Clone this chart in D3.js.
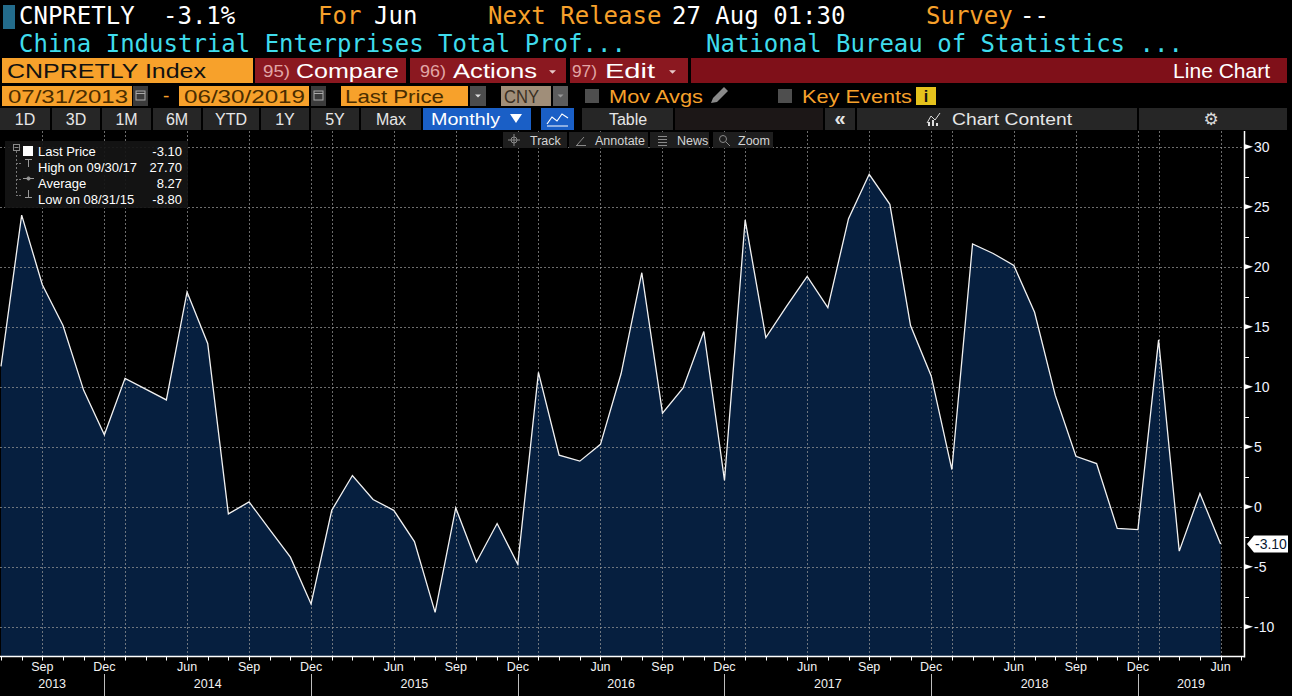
<!DOCTYPE html>
<html><head><meta charset="utf-8">
<script src="https://cdnjs.cloudflare.com/ajax/libs/d3/7.8.5/d3.min.js"></script>
<style>html,body{margin:0;padding:0;background:#000;overflow:hidden}</style>
</head><body>
<svg id="c" width="1292" height="696"></svg>
<script>
// ---------- DATA ----------
const months = [
 "Jul 2013","Aug 2013","Sep 2013","Oct 2013","Nov 2013","Dec 2013",
 "Mar 2014","Apr 2014","May 2014","Jun 2014","Jul 2014","Aug 2014","Sep 2014","Oct 2014","Nov 2014","Dec 2014",
 "Mar 2015","Apr 2015","May 2015","Jun 2015","Jul 2015","Aug 2015","Sep 2015","Oct 2015","Nov 2015","Dec 2015",
 "Mar 2016","Apr 2016","May 2016","Jun 2016","Jul 2016","Aug 2016","Sep 2016","Oct 2016","Nov 2016","Dec 2016",
 "Mar 2017","Apr 2017","May 2017","Jun 2017","Jul 2017","Aug 2017","Sep 2017","Oct 2017","Nov 2017","Dec 2017",
 "Mar 2018","Apr 2018","May 2018","Jun 2018","Jul 2018","Aug 2018","Sep 2018","Oct 2018","Nov 2018","Dec 2018",
 "Mar 2019","Apr 2019","May 2019","Jun 2019"];
const values = [
 11.7, 24.3, 18.5, 15.1, 9.7, 6.0,
 10.7, 9.8, 8.9, 17.9, 13.6, -0.6, 0.4, -1.9, -4.2, -8.1,
 -0.3, 2.6, 0.6, -0.3, -2.9, -8.8, -0.1, -4.6, -1.4, -4.8,
 11.2, 4.3, 3.8, 5.2, 11.1, 19.5, 7.8, 9.9, 14.6, 2.2,
 23.9, 14.1, 16.7, 19.2, 16.6, 24.0, 27.7, 25.2, 15.1, 10.9,
 3.1, 21.9, 21.1, 20.1, 16.2, 9.3, 4.2, 3.6, -1.8, -1.9,
 13.9, -3.7, 1.1, -3.1];
const yTicks = [-10, -5, 0, 5, 10, 15, 20, 25, 30];
const yMinorTicks = [-7.5, -2.5, 2.5, 7.5, 12.5, 17.5, 22.5, 27.5];
const xLabelMonths = ["Jun", "Sep", "Dec"];
const xGridMonths = ["Mar", "Jun", "Sep", "Dec"];
const years = ["2013","2014","2015","2016","2017","2018","2019"];
const legendRows = [
 {label:"Last Price", value:"-3.10"},
 {label:"High on 09/30/17", value:"27.70"},
 {label:"Average", value:"8.27"},
 {label:"Low on 08/31/15", value:"-8.80"}];
const lastValueLabel = "-3.10";

// ---------- SETUP ----------
const svg = d3.select("#c");
const ORANGE = "#f7a12b", CYAN = "#3fdcec", RED = "#8b1820";
const SANS = "'Liberation Sans', Arial, sans-serif";
const MONO = "'DejaVu Sans Mono', 'Liberation Mono', monospace";
svg.append("rect").attr("width",1292).attr("height",696).attr("fill","#000");

function T(x, y, s, o={}) {
  const t = svg.append("text").attr("x",x).attr("y",y).text(s)
    .attr("fill", o.fill || "#fff").attr("font-family", o.ff || SANS)
    .attr("font-size", o.fs || 16);
  if (o.anchor) t.attr("text-anchor", o.anchor);
  if (o.tl) t.attr("textLength", o.tl).attr("lengthAdjust","spacingAndGlyphs");
  if (o.fw) t.attr("font-weight", o.fw);
  return t;
}
function R(x, y, w, h, fill) {
  return svg.append("rect").attr("x",x).attr("y",y).attr("width",w).attr("height",h).attr("fill",fill);
}
function tri(cx, cy, s, fill, down=true) {
  svg.append("path").attr("d", down ? `M${cx-s},${cy-s/2}L${cx+s},${cy-s/2}L${cx},${cy+s/2}Z`
                                    : `M${cx-s},${cy+s/2}L${cx+s},${cy+s/2}L${cx},${cy-s/2}Z`).attr("fill",fill);
}

// ---------- HEADER ----------
R(3,5,12,24,"#236c8c");
T(19,24,"CNPRETLY",{ff:MONO,fs:24});
T(163,24,"-3.1%",{ff:MONO,fs:24});
T(318,24,"For",{ff:MONO,fs:24,fill:ORANGE});
T(374,24,"Jun",{ff:MONO,fs:24});
T(488,24,"Next Release",{ff:MONO,fs:24,fill:ORANGE});
T(672,24,"27 Aug 01:30",{ff:MONO,fs:24});
T(926,24,"Survey",{ff:MONO,fs:24,fill:ORANGE});
T(1020,24,"--",{ff:MONO,fs:24});
T(19,52,"China Industrial Enterprises Total Prof...",{ff:MONO,fs:24,fill:CYAN});
T(706,52,"National Bureau of Statistics ...",{ff:MONO,fs:24,fill:CYAN});

// row 3
R(2,58,251,25,ORANGE);
T(7,78,"CNPRETLY Index",{fs:21,fill:"#111",tl:199});
R(255,58,151,25,RED);
T(263,77,"95)",{fs:17,fill:"#e2a6a6",tl:27});
T(296,78,"Compare",{fs:21,tl:103});
R(410,58,156,25,RED);
T(420,77,"96)",{fs:17,fill:"#e2a6a6",tl:26});
T(453,78,"Actions",{fs:21,tl:84});
tri(552.5,72,3.5,"#e8c8c8");
R(570,58,118,25,RED);
T(572,77,"97)",{fs:17,fill:"#e2a6a6",tl:25});
T(605,78,"Edit",{fs:21,tl:50});
tri(672.5,72,3.5,"#e8c8c8");
R(691,58,596,25,"#7f1019");
T(1270,78,"Line Chart",{fs:21,anchor:"end"});

// row 4
function cal(x){
  R(x,86,15,20,"#3b3b3b");
  svg.append("rect").attr("x",x+3).attr("y",91).attr("width",9).attr("height",9)
    .attr("fill","none").attr("stroke","#aaa").attr("stroke-width",1);
  svg.append("line").attr("x1",x+3).attr("x2",x+12).attr("y1",93.5).attr("y2",93.5).attr("stroke","#aaa");
}
const DK = "#4a2d00";
R(2,86,130,20,ORANGE); T(8,103,"07/31/2013",{fs:19,fill:DK,tl:120}); cal(133);
T(163,102,"-",{fs:19,fill:ORANGE});
R(179,86,130,20,ORANGE); T(184,103,"06/30/2019",{fs:19,fill:DK,tl:121}); cal(311);
R(341,86,127,20,ORANGE); T(345,103,"Last Price",{fs:19,fill:DK,tl:99});
R(470,86,16,20,"#4c4c4c"); tri(478,96,3,"#ddd");
R(501,86,50,20,"#a08e79"); T(504,103,"CNY",{fs:19,fill:"#3a2e22",tl:35});
R(553,86,15,20,"#5c5c5c"); tri(560.5,96,3,"#999");
R(585,89,14,14,"#4e4e4e");
T(609,103,"Mov Avgs",{fs:19,fill:ORANGE,tl:94});
svg.append("path").attr("d","M711,103L713,98L724,87L728,91L717,102Z").attr("fill","#8a8a8a");
R(778,89,14,14,"#4e4e4e");
T(802,103,"Key Events",{fs:19,fill:ORANGE,tl:110});
R(916,87,20,18,"#e5c21c"); T(926,102,"i",{fs:16,fill:"#111",anchor:"middle",fw:"bold"});

// row 5
const btns = [[0,50,"1D"],[52,100,"3D"],[102,151,"1M"],[153,201,"6M"],[203,259,"YTD"],[261,309,"1Y"],[311,359,"5Y"],[361,421,"Max"]];
btns.forEach(b=>{ R(b[0],108,b[1]-b[0],22,"#262626"); T((b[0]+b[1])/2,125,b[2],{fs:16,fill:"#e6e6e6",anchor:"middle"}); });
R(423,108,108,22,"#1a5fc6"); T(431,125,"Monthly",{fs:16,fill:"#fff",tl:69});
svg.append("path").attr("d","M510,114L522,114L516,123Z").attr("fill","#fff");
R(541,108,33,22,"#1a5fc6");
svg.append("path").attr("d","M547,124L552,117L557,121L562,114L568,118").attr("fill","none").attr("stroke","#fff").attr("stroke-width",1.2);
svg.append("line").attr("x1",547).attr("x2",568).attr("y1",126).attr("y2",126).attr("stroke","#fff");
R(582,108,91,22,"#262626"); T(628,125,"Table",{fs:16,fill:"#e6e6e6",anchor:"middle"});
R(675,108,148,22,"#1c1717");
R(825,108,30,22,"#262626"); T(840,125,"«",{fs:20,fill:"#e6e6e6",anchor:"middle",fw:"bold"});
R(857,108,280,22,"#262626");
svg.append("path").attr("d","M927,123L931,116L935,120L940,113").attr("fill","none").attr("stroke","#ddd").attr("stroke-width",1);
R(928,122,2,4,"#ddd"); R(932,120,2,6,"#ddd"); R(936,123,2,3,"#ddd");
T(952,125,"Chart Content",{fs:16,fill:"#e6e6e6",tl:120});
R(1139,108,148,22,"#262626"); T(1211,125,"⚙",{fs:17,fill:"#dcdcdc",anchor:"middle",ff:"'DejaVu Sans', sans-serif"});

// ---------- CHART ----------
const plot = {left:0, right:1244, top:131, bottom:656.5};
const x = d3.scalePoint().domain(months).range([1, 1220.6]);
const y = d3.scaleLinear().domain([-12.48, 31.31]).range([plot.bottom, plot.top]);
const data = months.map((m,i)=>({m, v: values[i], mon: m.slice(0,3), yr: m.slice(4)}));

const area = d3.area().x(d=>x(d.m)).y0(plot.bottom).y1(d=>y(d.v));
svg.append("path").datum(data).attr("d",area).attr("fill","#061f3f");

// gridlines
const grid = svg.append("g").attr("stroke","#9a9a9a").attr("stroke-opacity",0.7)
  .attr("stroke-dasharray","2,2").attr("stroke-width",1);
grid.selectAll("line.h").data(yTicks).join("line")
  .attr("x1",plot.left).attr("x2",plot.right)
  .attr("y1",d=>Math.round(y(d))+0.5).attr("y2",d=>Math.round(y(d))+0.5);
grid.selectAll("line.v").data(data.filter(d=>xGridMonths.includes(d.mon))).join("line")
  .attr("x1",d=>Math.round(x(d.m))+0.5).attr("x2",d=>Math.round(x(d.m))+0.5)
  .attr("y1",plot.top).attr("y2",plot.bottom);

// line
const line = d3.line().x(d=>x(d.m)).y(d=>y(d.v));
svg.append("path").datum(data).attr("d",line).attr("fill","none")
  .attr("stroke","#f2f2f2").attr("stroke-width",1.3).attr("stroke-linejoin","miter");

// x axis
svg.append("line").attr("x1",0).attr("x2",plot.right).attr("y1",plot.bottom).attr("y2",plot.bottom)
  .attr("stroke","#fff").attr("stroke-width",1.5);
const step = x.step();
const minorX = months.map(m=>x(m)).concat([x(months[months.length-1]) + step]);
svg.append("g").selectAll("line").data(minorX).join("line")
  .attr("x1",d=>Math.round(d)+0.5).attr("x2",d=>Math.round(d)+0.5)
  .attr("y1",plot.bottom).attr("y2",plot.bottom+4).attr("stroke","#fff");
svg.append("g").selectAll("text").data(data.filter(d=>xLabelMonths.includes(d.mon))).join("text")
  .attr("x",d=>x(d.m)).attr("y",671).attr("text-anchor","middle")
  .attr("font-family",SANS).attr("font-size",12.5).attr("fill","#f2f2f2").text(d=>d.mon);
const decs = data.filter(d=>d.mon==="Dec");
svg.append("g").selectAll("line").data(decs).join("line")
  .attr("x1",d=>Math.round(x(d.m))+0.5).attr("x2",d=>Math.round(x(d.m))+0.5)
  .attr("y1",674).attr("y2",696).attr("stroke","#bdbdbd");
const bounds = [plot.left].concat(decs.map(d=>x(d.m))).concat([plot.right]);
svg.append("g").selectAll("text").data(years).join("text")
  .attr("x",(d,i)=>(bounds[i]+bounds[i+1])/2).attr("y",688).attr("text-anchor","middle")
  .attr("font-family",SANS).attr("font-size",12.5).attr("fill","#f2f2f2").text(d=>d);

// y axis
svg.append("line").attr("x1",1244.5).attr("x2",1244.5).attr("y1",plot.top).attr("y2",plot.bottom+1)
  .attr("stroke","#fff").attr("stroke-width",1.5);
svg.append("g").selectAll("path").data(yTicks).join("path")
  .attr("d",d=>{const yy=y(d); return `M1245,${yy-2.5}L1253,${yy}L1245,${yy+2.5}Z`;}).attr("fill","#fff");
svg.append("g").selectAll("line").data(yMinorTicks).join("line")
  .attr("x1",1245).attr("x2",1249).attr("y1",d=>Math.round(y(d))+0.5).attr("y2",d=>Math.round(y(d))+0.5)
  .attr("stroke","#fff");
svg.append("g").selectAll("text").data(yTicks).join("text")
  .attr("x",1254).attr("y",d=>y(d)+5).attr("font-family",SANS).attr("font-size",14)
  .attr("fill","#f0f4ff").text(d=>d);

// last value tag
const yl = y(values[values.length-1]);
svg.append("path").attr("d",`M1247,${yl}L1254,${yl-8.5}L1288,${yl-8.5}L1288,${yl+8.5}L1254,${yl+8.5}Z`).attr("fill","#fff");
T(1255,yl+5,lastValueLabel,{fs:14,fill:"#0b1a33"});

// ---------- LEGEND ----------
svg.append("rect").attr("x",5).attr("y",141).attr("width",183).attr("height",67)
  .attr("fill","#151515").attr("fill-opacity",0.92);
svg.append("rect").attr("x",13.5).attr("y",144.5).attr("width",6).attr("height",6)
  .attr("fill","none").attr("stroke","#8a8a8a");
svg.append("line").attr("x1",14.5).attr("x2",18.5).attr("y1",147.5).attr("y2",147.5).attr("stroke","#8a8a8a");
R(23,146,10,10,"#fff");
svg.append("line").attr("x1",16.5).attr("x2",16.5).attr("y1",151).attr("y2",196)
  .attr("stroke","#777").attr("stroke-dasharray","2,2");
[163,179,195].forEach(yy=>svg.append("line").attr("x1",16).attr("x2",22).attr("y1",yy+0.5).attr("y2",yy+0.5)
  .attr("stroke","#777").attr("stroke-dasharray","2,1"));
const lg = svg.append("g").attr("stroke","#9a9a9a").attr("stroke-width",1);
lg.append("line").attr("x1",28.5).attr("x2",28.5).attr("y1",159).attr("y2",167);
lg.append("line").attr("x1",25).attr("x2",32).attr("y1",159.5).attr("y2",159.5);
lg.append("line").attr("x1",23).attr("x2",34).attr("y1",178.5).attr("y2",178.5);
lg.append("circle").attr("cx",28.5).attr("cy",178.5).attr("r",1.6).attr("fill","#9a9a9a");
lg.append("line").attr("x1",28.5).attr("x2",28.5).attr("y1",190).attr("y2",198);
lg.append("line").attr("x1",25).attr("x2",32).attr("y1",197.5).attr("y2",197.5);
svg.append("g").selectAll("text").data(legendRows).join("text")
  .attr("x",38).attr("y",(d,i)=>155.5+i*16).attr("font-family",SANS).attr("font-size",13)
  .attr("fill","#fff").text(d=>d.label);
svg.append("g").selectAll("text").data(legendRows).join("text")
  .attr("x",182).attr("y",(d,i)=>155.5+i*16).attr("text-anchor","end").attr("font-family",SANS)
  .attr("font-size",13).attr("fill","#fff").text(d=>d.value);

// ---------- TRACK TOOLBAR ----------
const tools = [[503,567,"Track",530],[569,648,"Annotate",595],[650,709,"News",677],[713,773,"Zoom",738]];
tools.forEach(t=>{ R(t[0],132,t[1]-t[0],16,"#1e1e1e"); T(t[3],145,t[2],{fs:12.5,fill:"#d4d4d4"}); });
const ic = svg.append("g").attr("stroke","#8a8a8a").attr("fill","none").attr("stroke-width",1);
ic.append("circle").attr("cx",514).attr("cy",140).attr("r",3);
ic.append("line").attr("x1",508).attr("x2",520).attr("y1",140).attr("y2",140);
ic.append("line").attr("x1",514).attr("x2",514).attr("y1",134).attr("y2",146);
ic.append("line").attr("x1",577).attr("x2",584).attr("y1",145).attr("y2",137);
ic.append("line").attr("x1",576).attr("x2",586).attr("y1",145.5).attr("y2",145.5);
[136,139,142,145].forEach(yy=>ic.append("line").attr("x1",658).attr("x2",667).attr("y1",yy+0.5).attr("y2",yy+0.5));
ic.append("circle").attr("cx",723).attr("cy",139).attr("r",3.5);
ic.append("line").attr("x1",726).attr("x2",730).attr("y1",142).attr("y2",146);
</script>
</body></html>
